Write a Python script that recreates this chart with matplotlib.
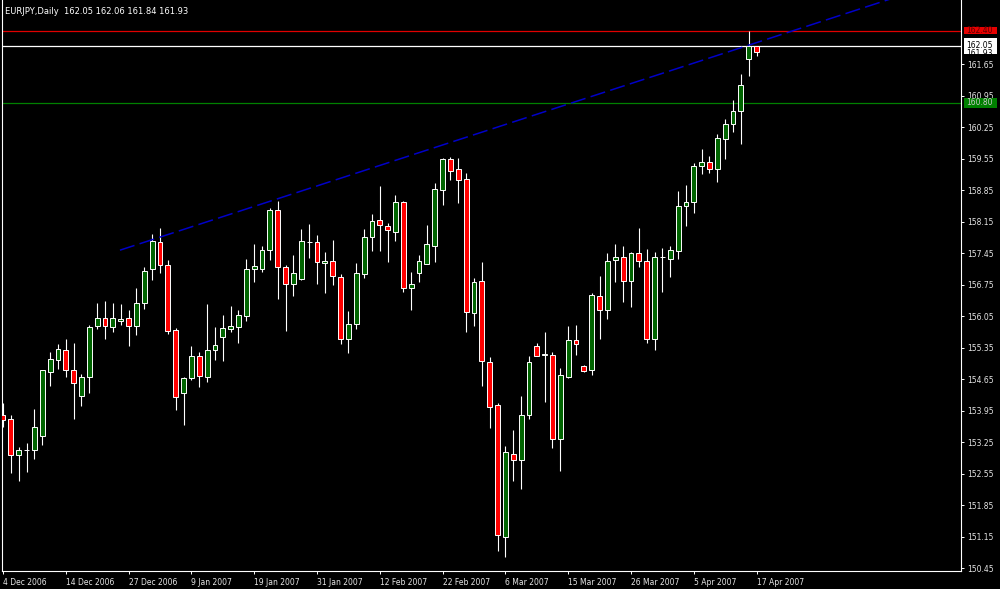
import matplotlib
matplotlib.use("Agg")
import matplotlib.pyplot as plt
import numpy as np
from matplotlib.patches import Rectangle
from matplotlib.transforms import blended_transform_factory

plt.rcParams['font.family'] = ['DejaVu Sans']

symbol = "EURJPY,Daily"

opens = [153.86, 153.77, 152.97, 153.08, 153.09, 153.40, 154.82, 155.08, 155.31, 154.85,
         154.27, 154.71, 155.83, 156.01, 155.82, 155.94, 156.01, 155.83, 156.35, 157.11,
         157.70, 157.20, 155.74, 154.35, 154.67, 155.17, 154.71, 155.31, 155.58, 155.77,
         155.82, 156.05, 157.10, 157.11, 157.53, 158.41, 157.15, 156.77, 156.87, 157.70,
         157.70, 157.23, 157.29, 156.92, 155.55, 155.89, 156.99, 157.81, 158.18, 158.06,
         157.92, 158.59, 156.69, 157.01, 157.22, 157.62, 158.85, 159.54, 159.32, 159.10,
         156.12, 156.83, 155.04, 154.07, 151.15, 153.00, 152.85, 153.85, 155.40, 155.20,
         155.19, 153.33, 154.70, 155.52, 154.95, 154.86, 156.50, 156.20, 157.30, 157.36,
         156.84, 157.45, 157.27, 155.54, 157.36, 157.33, 157.50, 158.51, 158.59, 159.39,
         159.48, 159.32, 160.00, 160.32, 160.62, 161.77, 162.05]

highs = [154.13, 153.85, 153.15, 153.23, 154.00, 154.86, 155.25, 155.43, 155.54, 155.45,
         154.76, 155.85, 156.35, 156.38, 156.34, 156.32, 156.20, 156.69, 157.15, 157.87,
         158.02, 157.30, 155.80, 154.71, 155.39, 155.25, 156.32, 155.82, 156.08, 156.29,
         156.19, 157.33, 157.66, 157.62, 158.45, 158.62, 157.18, 157.42, 157.98, 158.11,
         157.85, 157.47, 157.75, 156.98, 156.17, 157.23, 158.00, 158.33, 158.94, 158.12,
         158.74, 158.61, 157.03, 157.41, 158.07, 159.01, 159.57, 159.59, 159.56, 159.23,
         156.90, 157.26, 155.14, 154.13, 153.17, 153.52, 154.28, 155.16, 155.45, 155.70,
         155.26, 154.91, 155.83, 155.85, 154.97, 156.57, 156.95, 157.45, 157.66, 157.62,
         157.48, 158.01, 157.55, 157.47, 157.57, 157.62, 158.84, 158.97, 159.45, 159.76,
         159.61, 160.10, 160.43, 160.86, 161.44, 162.40, 162.06]

lows = [153.58, 152.57, 152.40, 152.58, 152.89, 153.18, 154.50, 154.89, 154.71, 153.76,
        154.06, 154.34, 155.76, 155.55, 155.71, 155.86, 155.39, 155.64, 156.22, 156.86,
        157.02, 155.65, 153.97, 153.63, 154.64, 154.49, 154.59, 155.07, 155.05, 155.70,
        155.46, 155.94, 156.81, 157.04, 157.30, 156.44, 155.73, 156.50, 156.86, 157.35,
        156.77, 156.56, 156.75, 155.43, 155.23, 155.77, 156.91, 157.50, 157.50, 157.25,
        157.73, 156.60, 156.18, 156.82, 157.21, 157.25, 158.52, 159.08, 158.56, 155.70,
        155.84, 154.50, 153.57, 150.84, 150.71, 152.40, 152.21, 153.77, 155.16, 154.15,
        153.12, 152.61, 154.68, 155.20, 154.82, 154.74, 155.55, 155.99, 156.81, 156.37,
        156.26, 157.15, 155.46, 155.30, 156.59, 156.92, 157.32, 158.05, 158.35, 159.21,
        159.23, 159.03, 159.55, 160.15, 159.88, 161.40, 161.84]

closes = [153.75, 152.97, 153.09, 153.09, 153.60, 154.85, 155.10, 155.33, 154.85, 154.56,
          154.71, 155.82, 156.01, 155.83, 156.01, 155.99, 155.83, 156.34, 157.06, 157.72,
          157.18, 155.73, 154.25, 154.67, 155.17, 154.73, 155.31, 155.41, 155.79, 155.83,
          156.08, 157.11, 157.17, 157.53, 158.41, 157.15, 156.77, 157.01, 157.72, 157.70,
          157.26, 157.29, 156.95, 155.55, 155.89, 157.01, 157.81, 158.16, 158.09, 157.96,
          158.58, 156.69, 156.77, 157.27, 157.65, 158.88, 159.54, 159.28, 159.08, 156.14,
          156.82, 155.05, 154.04, 151.19, 153.03, 152.86, 153.85, 155.04, 155.17, 155.20,
          153.33, 154.74, 155.52, 155.43, 154.83, 156.52, 156.20, 157.27, 157.36, 156.83,
          157.45, 157.27, 155.54, 157.36, 157.36, 157.53, 158.51, 158.60, 159.39, 159.49,
          159.32, 160.01, 160.32, 160.61, 161.19, 162.05, 161.93]

date_labels = ["4 Dec 2006", "14 Dec 2006", "27 Dec 2006", "9 Jan 2007", "19 Jan 2007",
               "31 Jan 2007", "12 Feb 2007", "22 Feb 2007", "6 Mar 2007", "15 Mar 2007",
               "26 Mar 2007", "5 Apr 2007", "17 Apr 2007"]
date_label_step = 8

price_ticks = [150.45, 151.15, 151.85, 152.55, 153.25, 153.95, 154.65, 155.35, 156.05,
               156.75, 157.45, 158.15, 158.85, 159.55, 160.25, 160.95, 161.65]

resistance_level = 162.40
support_level = 160.80
bid_level = 162.05
last_close = 161.93
trend_start = (14.9, 157.52)
trend_end = (113.0, 163.10)

# ---------------------------------------------------------------- figure
W, H = 1000, 589
fig = plt.figure(figsize=(W / 100, H / 100), dpi=100, facecolor="black")
ax_left, ax_right, ax_bottom_px = 2, 961, 571
ax = fig.add_axes([ax_left / W, (H - ax_bottom_px) / H, (ax_right - ax_left) / W, ax_bottom_px / H],
                  facecolor="black")

o = np.array(opens); h = np.array(highs); l = np.array(lows); c = np.array(closes)
x = np.arange(len(o))

ymin, ymax = 150.39, 163.08
ax.set_xlim(-0.127, 122.04)
ax.set_ylim(ymin, ymax)
upp = (ymax - ymin) / ax_bottom_px  # price units per pixel

# wicks
ax.vlines(x, l, h, colors="white", linewidth=0.8, zorder=3)
# bodies
up = c >= o
fills = np.where(up, "#006400", "#ff0000")
bottoms = np.minimum(o, c)
heights = np.maximum(np.abs(c - o), 0.004)
ax.bar(x, heights, bottom=bottoms, width=0.62, color=fills, edgecolor="white",
       linewidth=0.7, zorder=4)

# horizontal levels
ax.axhline(resistance_level, color="#e00000", linewidth=0.9, zorder=2)
ax.axhline(bid_level, color="white", linewidth=0.9, zorder=2)
ax.axhline(support_level, color="#008000", linewidth=0.9, zorder=2)

# trend line
ax.plot([trend_start[0], trend_end[0]], [trend_start[1], trend_end[1]], color="#0000c8",
        linewidth=1.1, linestyle=(0, (10, 3.5)), zorder=5)

# axes styling
for s in ["left", "right", "bottom"]:
    ax.spines[s].set_color("white")
    ax.spines[s].set_linewidth(0.8)
ax.spines["top"].set_visible(False)

ax.yaxis.tick_right()
ax.set_yticks(price_ticks)
ax.set_yticklabels([f"{p:.2f}" for p in price_ticks])
ax.tick_params(axis="y", colors="white", labelcolor="#e6e6e6", length=2.5, width=0.7,
               pad=2, labelsize=5.5)

ax.set_xticks(np.arange(0, len(o), date_label_step))
ax.set_xticklabels(date_labels, ha="left")
ax.tick_params(axis="x", colors="white", labelcolor="#e6e6e6", length=2.5, width=0.7,
               pad=2.5, labelsize=5.5)

# price label boxes on right axis
trans = blended_transform_factory(fig.transFigure, ax.transData)
box_x0, box_w, txt_x = 963.5 / W, 33.5 / W, 966 / W


def price_box(price, face, tcolor, up_px, down_px, label, text_dy_px=0.0):
    r = Rectangle((box_x0, price - down_px * upp), box_w, (up_px + down_px) * upp,
                  transform=trans, facecolor=face, edgecolor="none", clip_on=False, zorder=20)
    ax.add_patch(r)
    ax.text(txt_x, price + text_dy_px * upp, label, transform=trans, color=tcolor, fontsize=5.5,
            ha="left", va="center", clip_on=False, zorder=22)
    return r


price_box(resistance_level, "#e60000", "#5a0000", 3.8, 3.8, f"{resistance_level:.2f}")
wbox = price_box(bid_level, "white", "black", 8.6, 8.0, f"{bid_level:.2f}", 1.2)
t = ax.text(txt_x, last_close - 2.0 * upp, f"{last_close:.2f}", transform=trans, color="black",
            fontsize=5.5, ha="left", va="center", clip_on=True, zorder=21)
t.set_clip_path(wbox)
price_box(support_level, "#008000", "#c8c8c8", 5.0, 5.0, f"{support_level:.2f}")

# header
fig.text(5 / W, 1 - 11 / H,
         f"{symbol}  {opens[-1]:.2f} {highs[-1]:.2f} {lows[-1]:.2f} {closes[-1]:.2f}",
         color="white", fontsize=6, ha="left", va="center")

fig.savefig("out.png", dpi=100, facecolor="black")
